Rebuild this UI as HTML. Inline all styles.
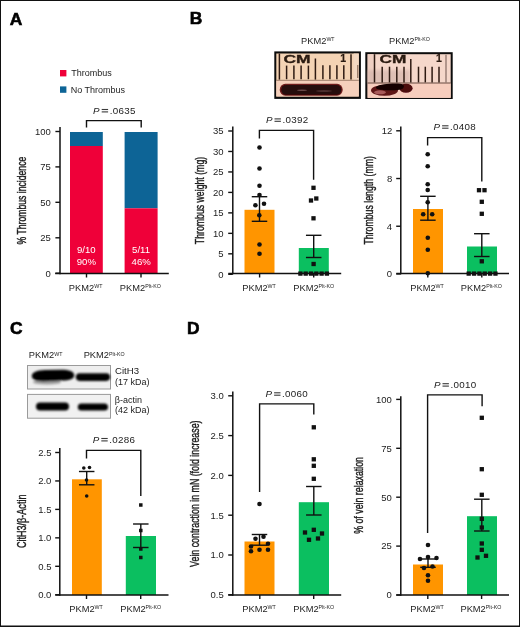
<!DOCTYPE html>
<html><head><meta charset="utf-8"><style>
html,body{margin:0;padding:0;background:#fff;}
svg{display:block;font-family:"Liberation Sans",sans-serif;will-change:transform;}
</style></head><body>
<svg width="520" height="627" viewBox="0 0 520 627">
<rect x="0" y="0" width="520" height="627" fill="#fff"/>
<defs>
<filter id="b1" x="-20%" y="-50%" width="140%" height="200%"><feGaussianBlur stdDeviation="0.9"/></filter>
<filter id="b2" x="-20%" y="-50%" width="140%" height="200%"><feGaussianBlur stdDeviation="1.4"/></filter>
<filter id="b05" x="-20%" y="-50%" width="140%" height="200%"><feGaussianBlur stdDeviation="0.5"/></filter>
</defs>
<!-- Photo 1 -->
<rect x="274.3" y="51.4" width="86.6" height="47.5" fill="#0c0c0c"/>
<rect x="276.3" y="53.5" width="82.5" height="43" fill="#F4D3B4"/>
<rect x="276.3" y="80.5" width="82.5" height="16" fill="#F5D0BC"/>
<rect x="353.6" y="53.5" width="5.2" height="27" fill="#F3D8C2"/>
<line x1="276.3" y1="80.3" x2="358.8" y2="80.3" stroke="#8a6a58" stroke-width="0.8"/>
<g stroke="#2e1a12" stroke-width="1.5">
<line x1="279.4" y1="53.5" x2="279.4" y2="79.6"/>
<line x1="286.6" y1="65.6" x2="286.6" y2="79.2"/>
<line x1="293.9" y1="65.6" x2="293.9" y2="79.2"/>
<line x1="301.1" y1="65.6" x2="301.1" y2="79.2"/>
<line x1="308.4" y1="65.6" x2="308.4" y2="79.2"/>
<line x1="315.4" y1="58.5" x2="315.4" y2="79.6"/>
<line x1="322.9" y1="65.2" x2="322.9" y2="79.2"/>
<line x1="329.9" y1="65.2" x2="329.9" y2="79.2"/>
<line x1="336.9" y1="65.2" x2="336.9" y2="79.2"/>
<line x1="343.8" y1="65.2" x2="343.8" y2="79.2"/>
<line x1="351.0" y1="54.2" x2="351.0" y2="79.4"/>
</g>
<line x1="357.8" y1="65" x2="357.8" y2="78" stroke="#5a3a2a" stroke-width="0.8"/>
<text x="283.4" y="62.9" font-size="10.4" font-weight="bold" fill="#2a1a10" stroke="#2a1a10" stroke-width="0.3" textLength="27.2" lengthAdjust="spacingAndGlyphs">CM</text>
<text x="340.2" y="62.0" font-size="10.6" font-weight="bold" fill="#2a1a10" stroke="#2a1a10" stroke-width="0.2">1</text>
<rect x="279.8" y="83.8" width="62.8" height="11.9" rx="5.5" fill="#6e1e1e" filter="url(#b05)"/>
<rect x="281.3" y="84.9" width="60" height="9.9" rx="4.8" fill="#260909" filter="url(#b05)"/>
<ellipse cx="302" cy="90.2" rx="5" ry="0.7" fill="#6a4a4a" filter="url(#b05)"/>
<ellipse cx="324" cy="91" rx="8" ry="0.8" fill="#5a3a3a" filter="url(#b05)"/>
<!-- Photo 2 -->
<rect x="365.3" y="52.2" width="87.4" height="46.8" fill="#0c0c0c"/>
<rect x="367.6" y="54.2" width="83.1" height="43.6" fill="#F5D7CA"/>
<rect x="367.6" y="83.2" width="83.1" height="14.6" fill="#F7CDBD"/>
<rect x="367.6" y="54.2" width="6" height="29" fill="#EFCFC2"/>
<rect x="367.6" y="70" width="42" height="13" fill="#c9a8a0" opacity="0.5" filter="url(#b2)"/>
<line x1="367.6" y1="83" x2="450.7" y2="83" stroke="#5a3a30" stroke-width="0.9"/>
<g stroke="#2e1a12" stroke-width="1.5">
<line x1="374.5" y1="54.2" x2="374.5" y2="82.4"/>
<line x1="382.2" y1="66.7" x2="382.2" y2="82.4"/>
<line x1="389.5" y1="66.7" x2="389.5" y2="82.4"/>
<line x1="396.8" y1="66.7" x2="396.8" y2="82.4"/>
<line x1="404.0" y1="66.7" x2="404.0" y2="82.4"/>
<line x1="410.8" y1="59.0" x2="410.8" y2="82.4"/>
<line x1="418.5" y1="66.7" x2="418.5" y2="82.4"/>
<line x1="425.3" y1="66.7" x2="425.3" y2="82.4"/>
<line x1="432.1" y1="66.7" x2="432.1" y2="82.4"/>
<line x1="439.0" y1="66.7" x2="439.0" y2="82.4"/>
</g>
<line x1="446" y1="54.8" x2="446" y2="82.4" stroke="#7a6058" stroke-width="1.1"/>
<text x="379.6" y="63.3" font-size="10.4" font-weight="bold" fill="#2a1a10" stroke="#2a1a10" stroke-width="0.3" textLength="26.9" lengthAdjust="spacingAndGlyphs">CM</text>
<text x="435.9" y="62.4" font-size="10.6" font-weight="bold" fill="#2a1a10" stroke="#2a1a10" stroke-width="0.2">1</text>
<ellipse cx="384.5" cy="90.4" rx="13.5" ry="5.4" fill="#5e1518" filter="url(#b05)"/>
<ellipse cx="380" cy="92.3" rx="6" ry="2" fill="#a85a5a" filter="url(#b05)"/>
<ellipse cx="406" cy="88.3" rx="6.6" ry="4.5" fill="#4e080c" filter="url(#b05)"/>
<path d="M376 87 C380 84 390 83.4 398 83.6 C404 84 405 86 403 88.5 C398 91 388 90.5 382 89.8 C378 89.5 375 88.5 376 87 Z" fill="#120303" filter="url(#b05)"/>
<!-- Western blot -->
<rect x="27.5" y="365.5" width="83" height="23.5" fill="#EEEEEE" stroke="#9a9a9a" stroke-width="1"/>
<rect x="27.5" y="394.4" width="83" height="23.8" fill="#F1F1F1" stroke="#9a9a9a" stroke-width="1"/>
<g filter="url(#b1)">
<ellipse cx="47" cy="382" rx="14" ry="2.6" fill="#777" opacity="0.7"/>
<path d="M31.8 376 C31.8 372.2 37 370.6 45 370.1 L61 369.7 C69 369.7 74.2 371.3 74.2 375.2 C74.2 379 70 380.3 62 380.6 L43 381.2 C35.5 381.2 31.8 379.3 31.8 376 Z" fill="#050505"/>
<rect x="75.8" y="373.3" width="34.3" height="7.6" rx="3.8" fill="#050505"/>
<rect x="36" y="402.6" width="33" height="8" rx="4" fill="#050505"/>
<rect x="77.8" y="403.5" width="30.2" height="7" rx="3.5" fill="#050505"/>
</g>

<text x="9.68" y="24.70" font-size="17.4" font-weight="bold" fill="#000" stroke="#000" stroke-width="0.6">A</text>
<text x="189.78" y="24.40" font-size="17.4" font-weight="bold" fill="#000" stroke="#000" stroke-width="0.6">B</text>
<text x="10.00" y="334.10" font-size="17.4" font-weight="bold" fill="#000" stroke="#000" stroke-width="0.6">C</text>
<text x="186.98" y="333.70" font-size="17.4" font-weight="bold" fill="#000" stroke="#000" stroke-width="0.6">D</text>
<rect x="60" y="70" width="6.40" height="6.40" fill="#EF0039"/>
<rect x="60" y="86.4" width="6.40" height="6.40" fill="#0D6496"/>
<text x="71.22" y="76.20" font-size="9.0" fill="#1c1c1c" >Thrombus</text>
<text x="70.68" y="92.70" font-size="9.0" fill="#1c1c1c" >No Thrombus</text>
<rect x="70" y="132" width="32.80" height="14.00" fill="#0D6496"/>
<rect x="70" y="146" width="32.80" height="127.50" fill="#EF0039"/>
<rect x="124.6" y="132" width="33.00" height="76.30" fill="#0D6496"/>
<rect x="124.6" y="208.3" width="33.00" height="65.20" fill="#EF0039"/>
<text x="76.99" y="253.20" font-size="9.6" fill="#fff">9/10</text>
<text x="76.75" y="265.20" font-size="9.6" fill="#fff">90%</text>
<text x="132.12" y="253.20" font-size="9.6" fill="#fff">5/11</text>
<text x="131.60" y="265.20" font-size="9.6" fill="#fff">46%</text>
<line x1="60" y1="127" x2="60" y2="274.2" stroke="#111" stroke-width="1.5"/>
<line x1="55.4" y1="131.5" x2="60" y2="131.5" stroke="#111" stroke-width="1.4"/>
<text x="35.02" y="134.82" font-size="9.5" fill="#1c1c1c">100</text>
<line x1="55.4" y1="166.9" x2="60" y2="166.9" stroke="#111" stroke-width="1.4"/>
<text x="40.34" y="170.22" font-size="9.5" fill="#1c1c1c">75</text>
<line x1="55.4" y1="202.3" x2="60" y2="202.3" stroke="#111" stroke-width="1.4"/>
<text x="40.24" y="205.62" font-size="9.5" fill="#1c1c1c">50</text>
<line x1="55.4" y1="237.8" x2="60" y2="237.8" stroke="#111" stroke-width="1.4"/>
<text x="40.34" y="241.12" font-size="9.5" fill="#1c1c1c">25</text>
<line x1="55.4" y1="273.2" x2="60" y2="273.2" stroke="#111" stroke-width="1.4"/>
<text x="45.56" y="276.52" font-size="9.5" fill="#1c1c1c">0</text>
<line x1="55.2" y1="273.5" x2="168.8" y2="273.5" stroke="#111" stroke-width="1.5"/>
<line x1="86.5" y1="273.5" x2="86.5" y2="277.5" stroke="#111" stroke-width="1.4"/>
<line x1="141" y1="273.5" x2="141" y2="277.5" stroke="#111" stroke-width="1.4"/>
<path d="M86.5 127.6 V120.6 H141.2 V127.6" fill="none" stroke="#111" stroke-width="1.4"/>
<text x="93.11" y="114.00" font-size="9.8" font-style="italic" fill="#1c1c1c">P</text>
<rect x="101.70" y="108.95" width="6.40" height="1.1" fill="#3a3a3a"/>
<rect x="101.70" y="111.35" width="6.40" height="1.1" fill="#3a3a3a"/>
<text x="109.72" y="114.00" font-size="9.8" letter-spacing="0.28" fill="#1c1c1c">.0635</text>
<text x="68.86" y="291.00" font-size="9.3" fill="#1c1c1c">PKM2<tspan font-size="5.3" dy="-2.80">WT</tspan></text>
<text x="119.86" y="291.00" font-size="9.3" fill="#1c1c1c">PKM2<tspan font-size="5.3" dy="-2.80">Plt-KO</tspan></text>
<text transform="translate(26.30,200.60) rotate(-90)" x="0" y="0" text-anchor="middle" font-size="12.0" fill="#1c1c1c" stroke="#1c1c1c" stroke-width="0.4" textLength="87.8" lengthAdjust="spacingAndGlyphs">% Thrombus incidence</text>
<rect x="244.5" y="209.8" width="30.00" height="63.70" fill="#FF9500"/>
<rect x="298.8" y="248" width="30.00" height="25.50" fill="#0BBF60"/>
<line x1="232.8" y1="126.5" x2="232.8" y2="274.2" stroke="#111" stroke-width="1.5"/>
<line x1="228.20000000000002" y1="131.0" x2="232.8" y2="131.0" stroke="#111" stroke-width="1.4"/>
<text x="213.03" y="134.32" font-size="9.5" fill="#1c1c1c">35</text>
<line x1="228.20000000000002" y1="151.47" x2="232.8" y2="151.47" stroke="#111" stroke-width="1.4"/>
<text x="212.94" y="154.79" font-size="9.5" fill="#1c1c1c">30</text>
<line x1="228.20000000000002" y1="171.94" x2="232.8" y2="171.94" stroke="#111" stroke-width="1.4"/>
<text x="213.03" y="175.26" font-size="9.5" fill="#1c1c1c">25</text>
<line x1="228.20000000000002" y1="192.41" x2="232.8" y2="192.41" stroke="#111" stroke-width="1.4"/>
<text x="212.94" y="195.73" font-size="9.5" fill="#1c1c1c">20</text>
<line x1="228.20000000000002" y1="212.88" x2="232.8" y2="212.88" stroke="#111" stroke-width="1.4"/>
<text x="213.03" y="216.20" font-size="9.5" fill="#1c1c1c">15</text>
<line x1="228.20000000000002" y1="233.35000000000002" x2="232.8" y2="233.35000000000002" stroke="#111" stroke-width="1.4"/>
<text x="212.94" y="236.68" font-size="9.5" fill="#1c1c1c">10</text>
<line x1="228.20000000000002" y1="253.82" x2="232.8" y2="253.82" stroke="#111" stroke-width="1.4"/>
<text x="218.35" y="257.14" font-size="9.5" fill="#1c1c1c">5</text>
<line x1="228.20000000000002" y1="274.29" x2="232.8" y2="274.29" stroke="#111" stroke-width="1.4"/>
<text x="218.26" y="277.62" font-size="9.5" fill="#1c1c1c">0</text>
<line x1="228.3" y1="273.5" x2="341.2" y2="273.5" stroke="#111" stroke-width="1.5"/>
<line x1="259.6" y1="273.5" x2="259.6" y2="277.5" stroke="#111" stroke-width="1.4"/>
<line x1="313.7" y1="273.5" x2="313.7" y2="277.5" stroke="#111" stroke-width="1.4"/>
<line x1="259.5" y1="196.7" x2="259.5" y2="221.3" stroke="#111" stroke-width="1.4"/>
<line x1="251.75" y1="196.7" x2="267.25" y2="196.7" stroke="#111" stroke-width="1.4"/>
<line x1="251.75" y1="221.3" x2="267.25" y2="221.3" stroke="#111" stroke-width="1.4"/>
<line x1="313.7" y1="235.3" x2="313.7" y2="257.5" stroke="#111" stroke-width="1.4"/>
<line x1="305.95" y1="235.3" x2="321.45" y2="235.3" stroke="#111" stroke-width="1.4"/>
<line x1="305.95" y1="257.5" x2="321.45" y2="257.5" stroke="#111" stroke-width="1.4"/>
<circle cx="259.5" cy="147.5" r="2.3" fill="#111"/>
<circle cx="259.5" cy="168.5" r="2.3" fill="#111"/>
<circle cx="259.5" cy="185.7" r="2.3" fill="#111"/>
<circle cx="259.5" cy="195" r="2.3" fill="#111"/>
<circle cx="255.4" cy="205.2" r="2.3" fill="#111"/>
<circle cx="264" cy="203.7" r="2.3" fill="#111"/>
<circle cx="259.3" cy="215.3" r="2.3" fill="#111"/>
<circle cx="259.5" cy="244.5" r="2.3" fill="#111"/>
<circle cx="259.5" cy="253.8" r="2.3" fill="#111"/>
<rect x="311.35" y="185.65" width="4.3" height="4.3" fill="#111"/>
<rect x="314.15" y="196.35" width="4.3" height="4.3" fill="#111"/>
<rect x="308.85" y="198.35" width="4.3" height="4.3" fill="#111"/>
<rect x="311.35" y="216.15" width="4.3" height="4.3" fill="#111"/>
<rect x="311.45" y="261.85" width="4.3" height="4.3" fill="#111"/>
<rect x="298.25" y="271.45" width="4.3" height="4.3" fill="#111"/>
<rect x="303.55" y="271.45" width="4.3" height="4.3" fill="#111"/>
<rect x="308.85" y="271.45" width="4.3" height="4.3" fill="#111"/>
<rect x="314.15" y="271.45" width="4.3" height="4.3" fill="#111"/>
<rect x="319.45" y="271.45" width="4.3" height="4.3" fill="#111"/>
<rect x="324.75" y="271.45" width="4.3" height="4.3" fill="#111"/>
<path d="M259.4 138.5 V130.4 H313.6 V179.7" fill="none" stroke="#111" stroke-width="1.4"/>
<text x="265.91" y="123.40" font-size="9.8" font-style="italic" fill="#1c1c1c">P</text>
<rect x="274.50" y="118.35" width="6.40" height="1.1" fill="#3a3a3a"/>
<rect x="274.50" y="120.75" width="6.40" height="1.1" fill="#3a3a3a"/>
<text x="282.52" y="123.40" font-size="9.8" letter-spacing="0.28" fill="#1c1c1c">.0392</text>
<text x="242.26" y="291.00" font-size="9.3" fill="#1c1c1c">PKM2<tspan font-size="5.3" dy="-2.80">WT</tspan></text>
<text x="293.26" y="291.00" font-size="9.3" fill="#1c1c1c">PKM2<tspan font-size="5.3" dy="-2.80">Plt-KO</tspan></text>
<text transform="translate(204.30,200.50) rotate(-90)" x="0" y="0" text-anchor="middle" font-size="12.0" fill="#1c1c1c" stroke="#1c1c1c" stroke-width="0.4" textLength="87.3" lengthAdjust="spacingAndGlyphs">Thrombus weight (mg)</text>
<rect x="413" y="209" width="30.00" height="64.50" fill="#FF9500"/>
<rect x="467" y="246.5" width="30.00" height="27.00" fill="#0BBF60"/>
<line x1="400.8" y1="126.5" x2="400.8" y2="274.2" stroke="#111" stroke-width="1.5"/>
<line x1="396.2" y1="130.8" x2="400.8" y2="130.8" stroke="#111" stroke-width="1.4"/>
<text x="381.63" y="134.12" font-size="9.5" fill="#1c1c1c">12</text>
<line x1="396.2" y1="178.52" x2="400.8" y2="178.52" stroke="#111" stroke-width="1.4"/>
<text x="386.95" y="181.84" font-size="9.5" fill="#1c1c1c">8</text>
<line x1="396.2" y1="226.24" x2="400.8" y2="226.24" stroke="#111" stroke-width="1.4"/>
<text x="386.76" y="229.56" font-size="9.5" fill="#1c1c1c">4</text>
<line x1="396.2" y1="273.96000000000004" x2="400.8" y2="273.96000000000004" stroke="#111" stroke-width="1.4"/>
<text x="386.86" y="277.29" font-size="9.5" fill="#1c1c1c">0</text>
<line x1="396.3" y1="273.5" x2="509" y2="273.5" stroke="#111" stroke-width="1.5"/>
<line x1="427.8" y1="273.5" x2="427.8" y2="277.5" stroke="#111" stroke-width="1.4"/>
<line x1="481.8" y1="273.5" x2="481.8" y2="277.5" stroke="#111" stroke-width="1.4"/>
<line x1="427.9" y1="196.3" x2="427.9" y2="220.2" stroke="#111" stroke-width="1.4"/>
<line x1="420.15" y1="196.3" x2="435.65" y2="196.3" stroke="#111" stroke-width="1.4"/>
<line x1="420.15" y1="220.2" x2="435.65" y2="220.2" stroke="#111" stroke-width="1.4"/>
<line x1="481.8" y1="233.7" x2="481.8" y2="256.5" stroke="#111" stroke-width="1.4"/>
<line x1="474.05" y1="233.7" x2="489.55" y2="233.7" stroke="#111" stroke-width="1.4"/>
<line x1="474.05" y1="256.5" x2="489.55" y2="256.5" stroke="#111" stroke-width="1.4"/>
<circle cx="427.7" cy="154.3" r="2.3" fill="#111"/>
<circle cx="427.7" cy="166.3" r="2.3" fill="#111"/>
<circle cx="427.7" cy="184.2" r="2.3" fill="#111"/>
<circle cx="427.7" cy="190" r="2.3" fill="#111"/>
<circle cx="427.7" cy="202.2" r="2.3" fill="#111"/>
<circle cx="423.2" cy="214.2" r="2.3" fill="#111"/>
<circle cx="432.2" cy="214.2" r="2.3" fill="#111"/>
<circle cx="427.8" cy="237.8" r="2.3" fill="#111"/>
<circle cx="427.8" cy="249.8" r="2.3" fill="#111"/>
<circle cx="427.8" cy="273.3" r="2.3" fill="#111"/>
<rect x="476.85" y="188.05" width="4.3" height="4.3" fill="#111"/>
<rect x="482.35" y="188.05" width="4.3" height="4.3" fill="#111"/>
<rect x="479.65" y="199.65" width="4.3" height="4.3" fill="#111"/>
<rect x="479.65" y="211.65" width="4.3" height="4.3" fill="#111"/>
<rect x="479.65" y="259.15" width="4.3" height="4.3" fill="#111"/>
<rect x="466.55" y="271.45" width="4.3" height="4.3" fill="#111"/>
<rect x="471.90" y="271.45" width="4.3" height="4.3" fill="#111"/>
<rect x="477.25" y="271.45" width="4.3" height="4.3" fill="#111"/>
<rect x="482.60" y="271.45" width="4.3" height="4.3" fill="#111"/>
<rect x="487.95" y="271.45" width="4.3" height="4.3" fill="#111"/>
<rect x="493.30" y="271.45" width="4.3" height="4.3" fill="#111"/>
<path d="M427.6 145.5 V137.6 H481.8 V181.5" fill="none" stroke="#111" stroke-width="1.4"/>
<text x="433.51" y="130.30" font-size="9.8" font-style="italic" fill="#1c1c1c">P</text>
<rect x="442.10" y="125.25" width="6.40" height="1.1" fill="#3a3a3a"/>
<rect x="442.10" y="127.65" width="6.40" height="1.1" fill="#3a3a3a"/>
<text x="450.12" y="130.30" font-size="9.8" letter-spacing="0.28" fill="#1c1c1c">.0408</text>
<text x="410.26" y="291.00" font-size="9.3" fill="#1c1c1c">PKM2<tspan font-size="5.3" dy="-2.80">WT</tspan></text>
<text x="460.86" y="291.00" font-size="9.3" fill="#1c1c1c">PKM2<tspan font-size="5.3" dy="-2.80">Plt-KO</tspan></text>
<text transform="translate(372.50,200.30) rotate(-90)" x="0" y="0" text-anchor="middle" font-size="12.0" fill="#1c1c1c" stroke="#1c1c1c" stroke-width="0.4" textLength="88.6" lengthAdjust="spacingAndGlyphs">Thrombus length (mm)</text>
<rect x="72" y="479.3" width="29.80" height="115.70" fill="#FF9500"/>
<rect x="125.8" y="536" width="30.20" height="59.00" fill="#0BBF60"/>
<line x1="59.8" y1="448" x2="59.8" y2="595.7" stroke="#111" stroke-width="1.5"/>
<line x1="55.199999999999996" y1="452.5" x2="59.8" y2="452.5" stroke="#111" stroke-width="1.4"/>
<text x="38.27" y="455.82" font-size="9.5" fill="#1c1c1c">2.5</text>
<line x1="55.199999999999996" y1="480.95" x2="59.8" y2="480.95" stroke="#111" stroke-width="1.4"/>
<text x="38.17" y="484.27" font-size="9.5" fill="#1c1c1c">2.0</text>
<line x1="55.199999999999996" y1="509.4" x2="59.8" y2="509.4" stroke="#111" stroke-width="1.4"/>
<text x="38.27" y="512.73" font-size="9.5" fill="#1c1c1c">1.5</text>
<line x1="55.199999999999996" y1="537.85" x2="59.8" y2="537.85" stroke="#111" stroke-width="1.4"/>
<text x="38.17" y="541.18" font-size="9.5" fill="#1c1c1c">1.0</text>
<line x1="55.199999999999996" y1="566.3" x2="59.8" y2="566.3" stroke="#111" stroke-width="1.4"/>
<text x="38.27" y="569.62" font-size="9.5" fill="#1c1c1c">0.5</text>
<line x1="55.199999999999996" y1="594.75" x2="59.8" y2="594.75" stroke="#111" stroke-width="1.4"/>
<text x="38.17" y="598.08" font-size="9.5" fill="#1c1c1c">0.0</text>
<line x1="55.3" y1="595.0" x2="168.5" y2="595.0" stroke="#111" stroke-width="1.5"/>
<line x1="86.5" y1="595.0" x2="86.5" y2="599.0" stroke="#111" stroke-width="1.4"/>
<line x1="140.7" y1="595.0" x2="140.7" y2="599.0" stroke="#111" stroke-width="1.4"/>
<line x1="86.7" y1="471.5" x2="86.7" y2="484.8" stroke="#111" stroke-width="1.4"/>
<line x1="78.95" y1="471.5" x2="94.45" y2="471.5" stroke="#111" stroke-width="1.4"/>
<line x1="78.95" y1="484.8" x2="94.45" y2="484.8" stroke="#111" stroke-width="1.4"/>
<line x1="140.8" y1="524" x2="140.8" y2="547.5" stroke="#111" stroke-width="1.4"/>
<line x1="133.05" y1="524" x2="148.55" y2="524" stroke="#111" stroke-width="1.4"/>
<line x1="133.05" y1="547.5" x2="148.55" y2="547.5" stroke="#111" stroke-width="1.4"/>
<circle cx="83.8" cy="468" r="1.8" fill="#111"/>
<circle cx="89.5" cy="467.5" r="1.8" fill="#111"/>
<circle cx="86.5" cy="480" r="1.8" fill="#111"/>
<circle cx="86.7" cy="496" r="1.8" fill="#111"/>
<rect x="139.05" y="503.25" width="3.5" height="3.5" fill="#111"/>
<rect x="139.05" y="528.75" width="3.5" height="3.5" fill="#111"/>
<rect x="139.05" y="547.25" width="3.5" height="3.5" fill="#111"/>
<rect x="139.05" y="555.75" width="3.5" height="3.5" fill="#111"/>
<path d="M86.5 458.5 V450.4 H140.8 V496" fill="none" stroke="#111" stroke-width="1.4"/>
<text x="92.71" y="443.00" font-size="9.8" font-style="italic" fill="#1c1c1c">P</text>
<rect x="101.30" y="437.95" width="6.40" height="1.1" fill="#3a3a3a"/>
<rect x="101.30" y="440.35" width="6.40" height="1.1" fill="#3a3a3a"/>
<text x="109.32" y="443.00" font-size="9.8" letter-spacing="0.28" fill="#1c1c1c">.0286</text>
<text x="69.26" y="612.00" font-size="9.3" fill="#1c1c1c">PKM2<tspan font-size="5.3" dy="-2.80">WT</tspan></text>
<text x="120.26" y="612.00" font-size="9.3" fill="#1c1c1c">PKM2<tspan font-size="5.3" dy="-2.80">Plt-KO</tspan></text>
<text transform="translate(26.20,521.30) rotate(-90)" x="0" y="0" text-anchor="middle" font-size="12.0" fill="#1c1c1c" stroke="#1c1c1c" stroke-width="0.4" textLength="53.5" lengthAdjust="spacingAndGlyphs">CitH3/β-Actin</text>
<rect x="244.5" y="541.5" width="30.00" height="53.50" fill="#FF9500"/>
<rect x="298.8" y="502.2" width="30.20" height="92.80" fill="#0BBF60"/>
<line x1="232.8" y1="391.5" x2="232.8" y2="595.7" stroke="#111" stroke-width="1.5"/>
<line x1="228.20000000000002" y1="395.8" x2="232.8" y2="395.8" stroke="#111" stroke-width="1.4"/>
<text x="210.48" y="399.12" font-size="9.5" fill="#1c1c1c">3.0</text>
<line x1="228.20000000000002" y1="435.6" x2="232.8" y2="435.6" stroke="#111" stroke-width="1.4"/>
<text x="210.57" y="438.93" font-size="9.5" fill="#1c1c1c">2.5</text>
<line x1="228.20000000000002" y1="475.4" x2="232.8" y2="475.4" stroke="#111" stroke-width="1.4"/>
<text x="210.48" y="478.72" font-size="9.5" fill="#1c1c1c">2.0</text>
<line x1="228.20000000000002" y1="515.2" x2="232.8" y2="515.2" stroke="#111" stroke-width="1.4"/>
<text x="210.57" y="518.53" font-size="9.5" fill="#1c1c1c">1.5</text>
<line x1="228.20000000000002" y1="555.0" x2="232.8" y2="555.0" stroke="#111" stroke-width="1.4"/>
<text x="210.48" y="558.33" font-size="9.5" fill="#1c1c1c">1.0</text>
<line x1="228.20000000000002" y1="594.8" x2="232.8" y2="594.8" stroke="#111" stroke-width="1.4"/>
<text x="210.57" y="598.12" font-size="9.5" fill="#1c1c1c">0.5</text>
<line x1="228.3" y1="595.0" x2="341.2" y2="595.0" stroke="#111" stroke-width="1.5"/>
<line x1="259.8" y1="595.0" x2="259.8" y2="599.0" stroke="#111" stroke-width="1.4"/>
<line x1="313.7" y1="595.0" x2="313.7" y2="599.0" stroke="#111" stroke-width="1.4"/>
<line x1="259.5" y1="534.5" x2="259.5" y2="545.2" stroke="#111" stroke-width="1.4"/>
<line x1="251.75" y1="534.5" x2="267.25" y2="534.5" stroke="#111" stroke-width="1.4"/>
<line x1="251.75" y1="545.2" x2="267.25" y2="545.2" stroke="#111" stroke-width="1.4"/>
<line x1="313.8" y1="486.5" x2="313.8" y2="515" stroke="#111" stroke-width="1.4"/>
<line x1="306.05" y1="486.5" x2="321.55" y2="486.5" stroke="#111" stroke-width="1.4"/>
<line x1="306.05" y1="515" x2="321.55" y2="515" stroke="#111" stroke-width="1.4"/>
<circle cx="259.5" cy="504" r="2.3" fill="#111"/>
<circle cx="255.5" cy="538.8" r="2.3" fill="#111"/>
<circle cx="263.5" cy="536.8" r="2.3" fill="#111"/>
<circle cx="251" cy="546.5" r="2.3" fill="#111"/>
<circle cx="268" cy="543.8" r="2.3" fill="#111"/>
<circle cx="251" cy="551.2" r="2.3" fill="#111"/>
<circle cx="259.5" cy="549.8" r="2.3" fill="#111"/>
<circle cx="268" cy="549.8" r="2.3" fill="#111"/>
<rect x="311.65" y="425.15" width="4.3" height="4.3" fill="#111"/>
<rect x="311.65" y="457.15" width="4.3" height="4.3" fill="#111"/>
<rect x="311.65" y="463.65" width="4.3" height="4.3" fill="#111"/>
<rect x="311.65" y="476.65" width="4.3" height="4.3" fill="#111"/>
<rect x="302.85" y="530.35" width="4.3" height="4.3" fill="#111"/>
<rect x="311.65" y="527.65" width="4.3" height="4.3" fill="#111"/>
<rect x="319.85" y="531.35" width="4.3" height="4.3" fill="#111"/>
<rect x="306.85" y="537.65" width="4.3" height="4.3" fill="#111"/>
<rect x="315.85" y="536.35" width="4.3" height="4.3" fill="#111"/>
<path d="M259.6 492 V403.9 H313.8 V414.4" fill="none" stroke="#111" stroke-width="1.4"/>
<text x="265.51" y="397.30" font-size="9.8" font-style="italic" fill="#1c1c1c">P</text>
<rect x="274.10" y="392.25" width="6.40" height="1.1" fill="#3a3a3a"/>
<rect x="274.10" y="394.65" width="6.40" height="1.1" fill="#3a3a3a"/>
<text x="282.12" y="397.30" font-size="9.8" letter-spacing="0.28" fill="#1c1c1c">.0060</text>
<text x="242.26" y="612.00" font-size="9.3" fill="#1c1c1c">PKM2<tspan font-size="5.3" dy="-2.80">WT</tspan></text>
<text x="293.26" y="612.00" font-size="9.3" fill="#1c1c1c">PKM2<tspan font-size="5.3" dy="-2.80">Plt-KO</tspan></text>
<text transform="translate(198.90,493.70) rotate(-90)" x="0" y="0" text-anchor="middle" font-size="12.0" fill="#1c1c1c" stroke="#1c1c1c" stroke-width="0.4" textLength="146.4" lengthAdjust="spacingAndGlyphs">Vein contraction in mN (fold increase)</text>
<rect x="413" y="564.5" width="30.00" height="30.50" fill="#FF9500"/>
<rect x="467" y="516.2" width="30.00" height="78.80" fill="#0BBF60"/>
<line x1="400.8" y1="396.2" x2="400.8" y2="595.7" stroke="#111" stroke-width="1.5"/>
<line x1="396.2" y1="399.4" x2="400.8" y2="399.4" stroke="#111" stroke-width="1.4"/>
<text x="376.01" y="402.72" font-size="9.5" fill="#1c1c1c">100</text>
<line x1="396.2" y1="448.29999999999995" x2="400.8" y2="448.29999999999995" stroke="#111" stroke-width="1.4"/>
<text x="381.33" y="451.62" font-size="9.5" fill="#1c1c1c">75</text>
<line x1="396.2" y1="497.2" x2="400.8" y2="497.2" stroke="#111" stroke-width="1.4"/>
<text x="381.24" y="500.52" font-size="9.5" fill="#1c1c1c">50</text>
<line x1="396.2" y1="546.0999999999999" x2="400.8" y2="546.0999999999999" stroke="#111" stroke-width="1.4"/>
<text x="381.33" y="549.42" font-size="9.5" fill="#1c1c1c">25</text>
<line x1="396.2" y1="595.0" x2="400.8" y2="595.0" stroke="#111" stroke-width="1.4"/>
<text x="386.56" y="598.33" font-size="9.5" fill="#1c1c1c">0</text>
<line x1="396.3" y1="595.0" x2="509" y2="595.0" stroke="#111" stroke-width="1.5"/>
<line x1="427.8" y1="595.0" x2="427.8" y2="599.0" stroke="#111" stroke-width="1.4"/>
<line x1="481.6" y1="595.0" x2="481.6" y2="599.0" stroke="#111" stroke-width="1.4"/>
<line x1="428" y1="559" x2="428" y2="567.3" stroke="#111" stroke-width="1.4"/>
<line x1="420.25" y1="559" x2="435.75" y2="559" stroke="#111" stroke-width="1.4"/>
<line x1="420.25" y1="567.3" x2="435.75" y2="567.3" stroke="#111" stroke-width="1.4"/>
<line x1="481.8" y1="499.2" x2="481.8" y2="531" stroke="#111" stroke-width="1.4"/>
<line x1="474.05" y1="499.2" x2="489.55" y2="499.2" stroke="#111" stroke-width="1.4"/>
<line x1="474.05" y1="531" x2="489.55" y2="531" stroke="#111" stroke-width="1.4"/>
<circle cx="428" cy="545" r="2.3" fill="#111"/>
<circle cx="420" cy="559" r="2.3" fill="#111"/>
<circle cx="428" cy="557" r="2.3" fill="#111"/>
<circle cx="436.5" cy="558" r="2.3" fill="#111"/>
<circle cx="424" cy="568" r="2.3" fill="#111"/>
<circle cx="432.5" cy="566.5" r="2.3" fill="#111"/>
<circle cx="428" cy="575.3" r="2.3" fill="#111"/>
<circle cx="428" cy="580.8" r="2.3" fill="#111"/>
<rect x="479.65" y="415.65" width="4.3" height="4.3" fill="#111"/>
<rect x="479.65" y="467.05" width="4.3" height="4.3" fill="#111"/>
<rect x="479.65" y="492.65" width="4.3" height="4.3" fill="#111"/>
<rect x="479.65" y="516.65" width="4.3" height="4.3" fill="#111"/>
<rect x="479.65" y="525.35" width="4.3" height="4.3" fill="#111"/>
<rect x="479.65" y="541.35" width="4.3" height="4.3" fill="#111"/>
<rect x="479.65" y="547.65" width="4.3" height="4.3" fill="#111"/>
<rect x="475.35" y="555.35" width="4.3" height="4.3" fill="#111"/>
<rect x="483.85" y="553.65" width="4.3" height="4.3" fill="#111"/>
<path d="M427.6 533 V394.9 H482.1 V406.2" fill="none" stroke="#111" stroke-width="1.4"/>
<text x="433.91" y="388.20" font-size="9.8" font-style="italic" fill="#1c1c1c">P</text>
<rect x="442.50" y="383.15" width="6.40" height="1.1" fill="#3a3a3a"/>
<rect x="442.50" y="385.55" width="6.40" height="1.1" fill="#3a3a3a"/>
<text x="450.52" y="388.20" font-size="9.8" letter-spacing="0.28" fill="#1c1c1c">.0010</text>
<text x="410.26" y="612.00" font-size="9.3" fill="#1c1c1c">PKM2<tspan font-size="5.3" dy="-2.80">WT</tspan></text>
<text x="460.46" y="612.00" font-size="9.3" fill="#1c1c1c">PKM2<tspan font-size="5.3" dy="-2.80">Plt-KO</tspan></text>
<text transform="translate(362.90,495.40) rotate(-90)" x="0" y="0" text-anchor="middle" font-size="12.0" fill="#1c1c1c" stroke="#1c1c1c" stroke-width="0.4" textLength="76.8" lengthAdjust="spacingAndGlyphs">% of vein relaxation</text>
<text x="301.06" y="44.00" font-size="9.3" fill="#1c1c1c">PKM2<tspan font-size="5.3" dy="-2.80">WT</tspan></text>
<text x="389.06" y="44.00" font-size="9.3" fill="#1c1c1c">PKM2<tspan font-size="5.3" dy="-2.80">Plt-KO</tspan></text>
<text x="28.86" y="358.40" font-size="9.3" fill="#1c1c1c">PKM2<tspan font-size="5.3" dy="-2.80">WT</tspan></text>
<text x="83.66" y="358.40" font-size="9.3" fill="#1c1c1c">PKM2<tspan font-size="5.3" dy="-2.80">Plt-KO</tspan></text>
<text x="115.02" y="373.90" font-size="9.6" fill="#1c1c1c" >CitH3</text>
<text x="114.96" y="385.30" font-size="9.0" fill="#1c1c1c" >(17 kDa)</text>
<text x="114.87" y="403.40" font-size="9.0" fill="#1c1c1c" >β-actin</text>
<text x="114.96" y="413.00" font-size="9.0" fill="#1c1c1c" >(42 kDa)</text>
<path d="M0.5 0 V627 M0 0.5 H520 M519.5 0 V627" stroke="#111" stroke-width="1" fill="none"/>
<rect x="0" y="625.5" width="520" height="1.5" fill="#111"/>
</svg>
</body></html>
